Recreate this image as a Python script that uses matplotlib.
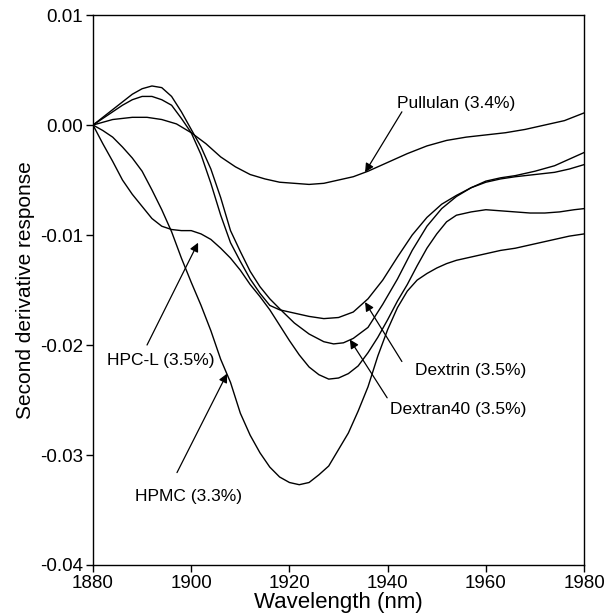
import matplotlib
matplotlib.use("Agg")
import matplotlib.pyplot as plt
from matplotlib.ticker import FixedLocator, FuncFormatter

# wavelength (nm) / second derivative values
pullulan_x = [1880, 1884, 1888, 1891, 1894, 1897, 1900, 1903, 1906, 1909, 1912, 1915,
              1918, 1921, 1924, 1927, 1930, 1933, 1936, 1940, 1944, 1948, 1952, 1956,
              1960, 1964, 1968, 1972, 1976, 1980]
pullulan_y = [0.0000, 0.0005, 0.0007, 0.0007, 0.0005, 0.0001, -0.0007, -0.0017, -0.0029,
              -0.0038, -0.0045, -0.0049, -0.0052, -0.0053, -0.0054, -0.0053, -0.0050,
              -0.0047, -0.0042, -0.0034, -0.0026, -0.0019, -0.0014, -0.0011, -0.0009,
              -0.0007, -0.0004, 0.0000, 0.0004, 0.0011]

dextran_x = [1880, 1882, 1884, 1886, 1888, 1890, 1892, 1894, 1896, 1898, 1900, 1902,
             1904, 1906, 1908, 1910, 1912, 1914, 1916, 1918, 1921, 1924, 1927, 1929,
             1931, 1933, 1936, 1939, 1942, 1945, 1948, 1951, 1954, 1957, 1960, 1963,
             1966, 1970, 1974, 1977, 1980]
dextran_y = [0.0000, 0.0007, 0.0014, 0.0021, 0.0028, 0.0033, 0.00355, 0.0034, 0.0026,
             0.0012, -0.0004, -0.0020, -0.0040, -0.0066, -0.0096, -0.0115, -0.0133,
             -0.0147, -0.0158, -0.0167, -0.0180, -0.0190, -0.0197, -0.0199, -0.0198,
             -0.0194, -0.0184, -0.0163, -0.0140, -0.0114, -0.0092, -0.0076, -0.0065,
             -0.0057, -0.0051, -0.0048, -0.0046, -0.0042, -0.0037, -0.0031, -0.0025]

dextrin_x = [1880, 1882, 1884, 1886, 1888, 1890, 1892, 1894, 1896, 1898, 1900, 1902,
             1904, 1906, 1908, 1910, 1912, 1914, 1916, 1918, 1921, 1924, 1927, 1930,
             1933, 1936, 1939, 1942, 1945, 1948, 1951, 1954, 1957, 1960, 1963, 1966,
             1970, 1974, 1977, 1980]
dextrin_y = [0.0000, 0.0006, 0.0012, 0.0018, 0.0023, 0.0026, 0.0026, 0.0023, 0.0018,
             0.0006, -0.0007, -0.0027, -0.0053, -0.0082, -0.0107, -0.0124, -0.0140,
             -0.0153, -0.0164, -0.0168, -0.0171, -0.0174, -0.0176, -0.0175, -0.0170,
             -0.0158, -0.0141, -0.0120, -0.0100, -0.0084, -0.0072, -0.0064, -0.0057,
             -0.0052, -0.0049, -0.0047, -0.0045, -0.0043, -0.0040, -0.0036]

hpcl_x = [1880, 1882, 1884, 1886, 1888, 1890, 1892, 1894, 1896, 1898, 1900, 1902, 1904,
          1906, 1908, 1910, 1912, 1914, 1916, 1918, 1920, 1922, 1924, 1926, 1928, 1930,
          1932, 1934, 1936, 1938, 1940, 1942, 1944, 1946, 1948, 1950, 1952, 1954, 1957,
          1960, 1963, 1966, 1969, 1972, 1975, 1978, 1980]
hpcl_y = [0.0000, -0.0017, -0.0033, -0.0050, -0.0063, -0.0074, -0.0085, -0.0092, -0.0095,
          -0.0096, -0.0096, -0.0099, -0.0104, -0.0112, -0.0121, -0.0132, -0.0145, -0.0156,
          -0.0168, -0.0182, -0.0196, -0.0209, -0.0220, -0.0227, -0.0231, -0.0230, -0.0226,
          -0.0219, -0.0207, -0.0193, -0.0177, -0.0160, -0.0145, -0.0128, -0.0112, -0.0099,
          -0.0088, -0.0082, -0.0079, -0.0077, -0.0078, -0.0079, -0.0080, -0.0080, -0.0079,
          -0.0077, -0.0076]

hpmc_x = [1880, 1882, 1884, 1886, 1888, 1890, 1892, 1894, 1896, 1898, 1900, 1902, 1904,
          1906, 1908, 1910, 1912, 1914, 1916, 1918, 1920, 1922, 1924, 1926, 1928, 1930,
          1932, 1934, 1936, 1938, 1940, 1942, 1944, 1946, 1948, 1950, 1952, 1954, 1957,
          1960, 1963, 1966, 1970, 1974, 1977, 1980]
hpmc_y = [0.0000, -0.0005, -0.0011, -0.0020, -0.0030, -0.0042, -0.0059, -0.0077, -0.0097,
          -0.0121, -0.0143, -0.0164, -0.0187, -0.0213, -0.0234, -0.0262, -0.0282, -0.0298,
          -0.0311, -0.0320, -0.0325, -0.0327, -0.0325, -0.0318, -0.0310, -0.0295, -0.0280,
          -0.0260, -0.0238, -0.0210, -0.0186, -0.0166, -0.0151, -0.0141, -0.0135, -0.0130,
          -0.0126, -0.0123, -0.0120, -0.0117, -0.0114, -0.0112, -0.0108, -0.0104, -0.0101,
          -0.0099]

x_ticks = [1880, 1900, 1920, 1940, 1960, 1980]
y_ticks = [0.01, 0.00, -0.01, -0.02, -0.03, -0.04]

plt.rcParams["font.family"] = ["Liberation Sans", "DejaVu Sans"]

fig = plt.figure(figsize=(6.04, 6.16), dpi=100)
ax = fig.add_axes([0.154, 0.0828, 0.813, 0.8928])

for xs, ys in [(pullulan_x, pullulan_y), (dextran_x, dextran_y), (dextrin_x, dextrin_y),
               (hpcl_x, hpcl_y), (hpmc_x, hpmc_y)]:
    ax.plot(xs, ys, color="black", lw=1.0)

ax.set_xlim(1880, 1980)
ax.set_ylim(-0.04, 0.01)
ax.xaxis.set_major_locator(FixedLocator(x_ticks))
ax.yaxis.set_major_locator(FixedLocator(y_ticks))
ax.yaxis.set_major_formatter(FuncFormatter(lambda v, p: f"{v:.2f}" if abs(v) > 1e-9 else "0.00"))
ax.tick_params(direction="out", length=5, width=1, labelsize=13.5, color="black", pad=2)
for s in ax.spines.values():
    s.set_linewidth(1.0)

ax.set_xlabel("Wavelength (nm)", fontsize=16, labelpad=0)
ax.set_ylabel("Second derivative response", fontsize=15, labelpad=4)

arrow = dict(arrowstyle="-|>", color="black", lw=0.9, mutation_scale=13,
             shrinkA=0, shrinkB=0)
labels = [
    ("Pullulan (3.4%)", (1941.9, 0.0020), (1942.9, 0.0012), (1935.4, -0.0043)),
    ("Dextrin (3.5%)", (1945.6, -0.0223), (1942.9, -0.0215), (1935.4, -0.0161)),
    ("Dextran40 (3.5%)", (1940.5, -0.0259), (1939.9, -0.0248), (1932.3, -0.0195)),
    ("HPC-L (3.5%)", (1882.9, -0.0214), (1891.0, -0.0200), (1901.4, -0.0107)),
    ("HPMC (3.3%)", (1888.6, -0.0338), (1897.1, -0.0316), (1907.3, -0.0226)),
]
for text, pos, tail, tip in labels:
    ax.text(pos[0], pos[1], text, fontsize=12.5, ha="left", va="center")
    ax.annotate("", xy=tip, xytext=tail, arrowprops=arrow)

fig.savefig("out.png", dpi=100)
